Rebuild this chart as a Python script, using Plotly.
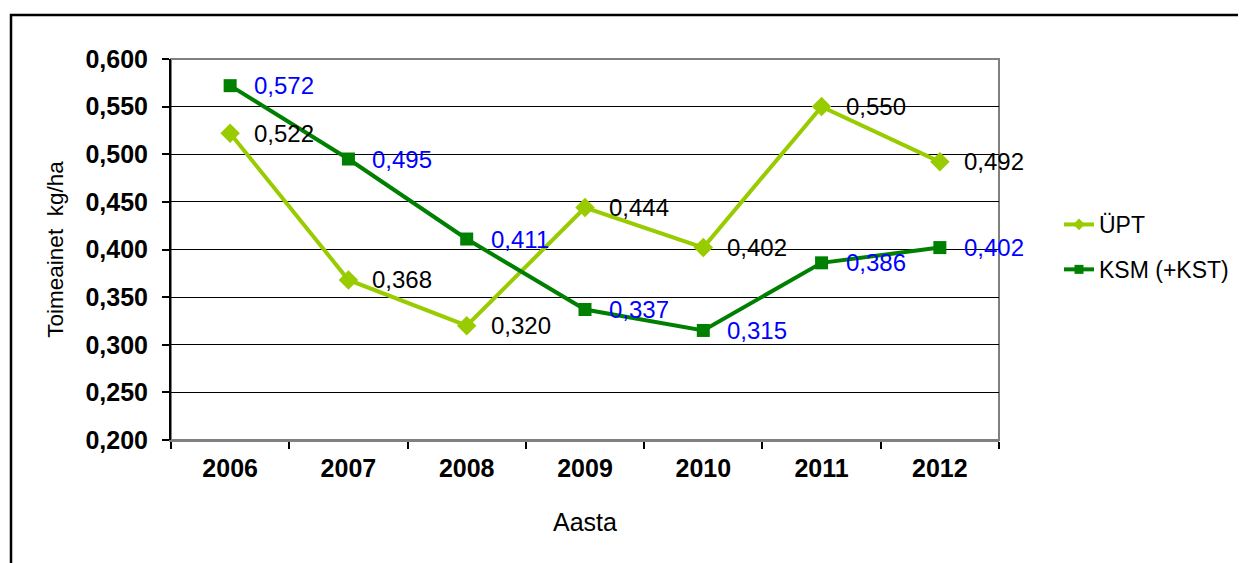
import plotly.graph_objects as go

years = ["2006", "2007", "2008", "2009", "2010", "2011", "2012"]
upt = [0.522, 0.368, 0.320, 0.444, 0.402, 0.550, 0.492]
ksm = [0.572, 0.495, 0.411, 0.337, 0.315, 0.386, 0.402]
yticks = [0.200, 0.250, 0.300, 0.350, 0.400, 0.450, 0.500, 0.550, 0.600]

# page has an 8px body margin: figure coords = page coords - 8
OFF = 8
W, H = 1246, 563
L, T = 171 - OFF, 59 - OFF
PR, PB = 999 - OFF, 440 - OFF
R, B = W - PR, H - PB
pw, ph = PR - L, PB - T

def fmt(v):
    return f"{v:.3f}".replace(".", ",")

def px_x(p):  # page pixel -> paper x
    return (p - OFF - L) / pw

def px_y(p):  # page pixel -> paper y
    return (PB - (p - OFF)) / ph

xs = list(range(len(years)))
FONT = "Liberation Sans, Arial, sans-serif"
LIGHT, DARK = "#99CC00", "#008000"

fig = go.Figure()
fig.add_trace(go.Scatter(
    x=xs, y=upt, name="ÜPT", mode="lines+markers",
    line=dict(color=LIGHT, width=4),
    marker=dict(symbol="diamond", size=15, color=LIGHT),
    showlegend=False,
))
fig.add_trace(go.Scatter(
    x=xs, y=ksm, name="KSM (+KST)", mode="lines+markers",
    line=dict(color=DARK, width=4),
    marker=dict(symbol="square", size=13, color=DARK),
    showlegend=False,
))
# legend entries with small markers
fig.add_trace(go.Scatter(
    x=[None], y=[None], name="ÜPT", mode="lines+markers",
    line=dict(color=LIGHT, width=4),
    marker=dict(symbol="diamond", size=9, color=LIGHT), legendgroup="a",
))
fig.add_trace(go.Scatter(
    x=[None], y=[None], name="KSM (+KST)", mode="lines+markers",
    line=dict(color=DARK, width=4),
    marker=dict(symbol="square", size=9, color=DARK), legendgroup="b",
))

for x, v in zip(xs, upt):
    fig.add_annotation(x=x, y=v, text=fmt(v), showarrow=False, xanchor="left",
                       yanchor="middle", xshift=22,
                       font=dict(family=FONT, size=24, color="black"))
for x, v in zip(xs, ksm):
    fig.add_annotation(x=x, y=v, text=fmt(v), showarrow=False, xanchor="left",
                       yanchor="middle", xshift=22,
                       font=dict(family=FONT, size=24, color="#0000FF"))

# plot-area border (gray)
fig.add_shape(type="rect", xref="paper", yref="paper", x0=0, y0=0, x1=1, y1=1,
              line=dict(color="#808080", width=2), layer="below")
# outer chart frame (cropped at right/bottom)
fig.add_shape(type="rect", xref="paper", yref="paper",
              x0=px_x(11), x1=px_x(W + 30),
              y0=px_y(H + 30), y1=px_y(15),
              line=dict(color="black", width=2.5))

fig.update_layout(
    width=W, height=H,
    margin=dict(l=L, r=R, t=T, b=B, pad=0, autoexpand=False),
    paper_bgcolor="white", plot_bgcolor="white",
    font=dict(family=FONT, color="black"),
    showlegend=True,
    legend=dict(x=px_x(1059), y=px_y(203), xanchor="left", yanchor="top",
                font=dict(family=FONT, size=23, color="black"),
                traceorder="grouped", tracegroupgap=12, bgcolor="rgba(0,0,0,0)"),
    xaxis=dict(
        range=[-0.5, 6.5], tickmode="array", tickvals=xs, ticktext=years,
        ticks="", showgrid=False, zeroline=False, automargin=False,
        showline=True, linecolor="#808080", linewidth=2,
        tickfont=dict(family=FONT, size=25, color="black", weight="bold"),
        ticklabelstandoff=5,
        minor=dict(tick0=-0.5, dtick=1, ticks="outside", ticklen=7, tickcolor="black",
                   tickwidth=2, showgrid=False),
        title=dict(text="Aasta", font=dict(family=FONT, size=25, color="black"), standoff=32),
    ),
    yaxis=dict(
        range=[0.2, 0.6], tickmode="array", tickvals=yticks,
        ticktext=[fmt(v) for v in yticks], automargin=False,
        ticks="outside", ticklen=7, tickcolor="black", tickwidth=2,
        ticklabelstandoff=9,
        showgrid=True, gridcolor="black", gridwidth=1, zeroline=False,
        showline=True, linecolor="black", linewidth=2,
        tickfont=dict(family=FONT, size=25, color="black", weight="bold"),
        title=dict(text="Toimeainet  kg/ha", font=dict(family=FONT, size=22.5, color="black"), standoff=16),
    ),
)

fig.write_html("out.html")
